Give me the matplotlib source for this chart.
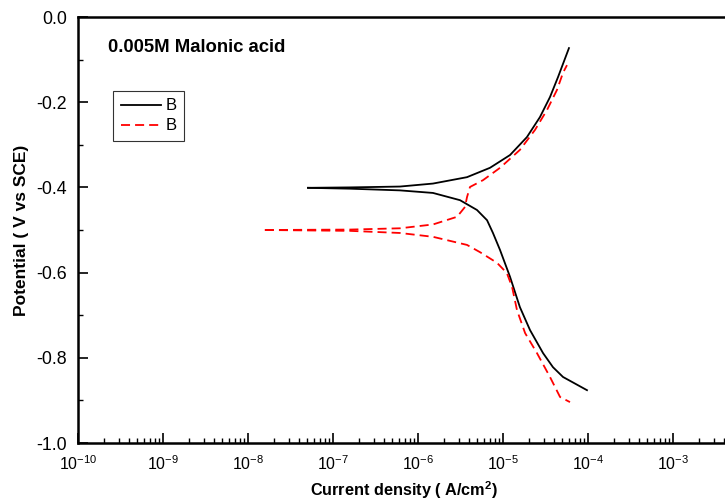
import matplotlib
matplotlib.use("Agg")
import matplotlib.pyplot as plt
from matplotlib.ticker import LogLocator, MultipleLocator

plt.rcParams["font.family"] = ["Liberation Sans", "DejaVu Sans"]
plt.rcParams["mathtext.fontset"] = "custom"
plt.rcParams["mathtext.rm"] = "Liberation Sans"
plt.rcParams["mathtext.it"] = "Liberation Sans:italic"
plt.rcParams["mathtext.bf"] = "Liberation Sans:bold"
plt.rcParams["axes.unicode_minus"] = False

# Black curve (B): anodic and cathodic branches, current in A/cm2, potential in V
black_anodic_i = [5.08e-8, 1.58e-7, 6.14e-7, 1.50e-6, 3.77e-6, 7.03e-6,
                  1.21e-5, 1.91e-5, 2.72e-5, 3.57e-5, 4.44e-5, 5.97e-5]
black_anodic_e = [-0.401, -0.400, -0.398, -0.391, -0.376, -0.354,
                  -0.324, -0.282, -0.235, -0.188, -0.141, -0.073]
black_cathodic_i = [5.08e-8, 1.58e-7, 6.14e-7, 1.50e-6, 3.12e-6, 4.94e-6,
                    6.49e-6, 7.62e-6, 9.23e-6, 1.21e-5, 1.58e-5, 2.08e-5,
                    2.96e-5, 3.87e-5, 5.08e-5, 9.73e-5]
black_cathodic_e = [-0.401, -0.403, -0.407, -0.413, -0.430, -0.453,
                    -0.477, -0.507, -0.547, -0.610, -0.681, -0.735,
                    -0.789, -0.822, -0.845, -0.876]

# Red dashed curve (B): anodic and cathodic branches
red_anodic_i = [1.58e-8, 1.58e-7, 6.14e-7, 1.50e-6, 2.88e-6, 3.57e-6,
                3.77e-6, 4.09e-6, 5.82e-6, 9.23e-6, 1.58e-5, 2.38e-5,
                3.30e-5, 4.32e-5, 5.08e-5, 5.66e-5]
red_anodic_e = [-0.500, -0.499, -0.496, -0.487, -0.469, -0.446,
                -0.423, -0.399, -0.383, -0.354, -0.312, -0.265,
                -0.218, -0.171, -0.131, -0.113]
red_cathodic_i = [1.58e-8, 1.58e-7, 6.14e-7, 1.50e-6, 3.77e-6, 5.36e-6,
                  8.5e-6, 1.11e-5, 1.28e-5, 1.46e-5, 1.82e-5, 2.51e-5,
                  3.57e-5, 4.69e-5, 6.14e-5]
red_cathodic_e = [-0.500, -0.502, -0.507, -0.516, -0.535, -0.552,
                  -0.577, -0.601, -0.634, -0.688, -0.742, -0.789,
                  -0.845, -0.892, -0.904]

x_major = [1e-10, 1e-9, 1e-8, 1e-7, 1e-6, 1e-5, 1e-4, 1e-3]
x_labels = [r"$10^{-10}$", r"$10^{-9}$", r"$10^{-8}$", r"$10^{-7}$",
            r"$10^{-6}$", r"$10^{-5}$", r"$10^{-4}$", r"$10^{-3}$"]
y_major = [-1.0, -0.8, -0.6, -0.4, -0.2, 0.0]

fig = plt.figure(figsize=(7.25, 5.04), dpi=100)
ax = fig.add_axes([78 / 725, 61 / 504, 680 / 725, 426 / 504])

dash = (0, (5, 2.8))
ax.plot(black_anodic_i, black_anodic_e, color="black", lw=1.3, label="B")
ax.plot(black_cathodic_i, black_cathodic_e, color="black", lw=1.3)
ax.plot(red_anodic_i, red_anodic_e, color="red", lw=1.3, ls=dash, label="B")
ax.plot(red_cathodic_i, red_cathodic_e, color="red", lw=1.3, ls=dash)

ax.set_xscale("log")
ax.set_xlim(1e-10, 1e-2)
ax.set_ylim(-1.0, 0.0)

ax.set_xticks(x_major)
ax.set_xticklabels(x_labels)
ax.xaxis.set_minor_locator(LogLocator(base=10, subs=range(2, 10), numticks=20))
ax.set_yticks(y_major)
ax.set_yticklabels([f"{v:.1f}" for v in y_major])
ax.yaxis.set_minor_locator(MultipleLocator(0.1))

ax.tick_params(which="major", direction="in", length=7, width=1.2,
               top=False, right=False)
ax.tick_params(which="minor", direction="in", length=3.5, width=1.0,
               top=False, right=False)
ax.tick_params(axis="x", which="major", labelsize=11.5, pad=8)
ax.tick_params(axis="y", which="major", labelsize=12.8, pad=8)

for side in ["left", "bottom", "top", "right"]:
    ax.spines[side].set_linewidth(1.8)

ax.set_xlabel(r"Current density ( A/cm$^\mathbf{2}$)", fontsize=11.7, fontweight="bold")
ax.xaxis.set_label_coords(0.479, -0.085)
ax.set_ylabel("Potential ( V vs SCE)", fontsize=12.5, fontweight="bold")
ax.yaxis.set_label_coords(-0.072, 0.5)

ax.text(108 / 725, 1 - 47 / 504, "0.005M Malonic acid", transform=fig.transFigure,
        fontsize=13.3, fontweight="bold", va="center", ha="left")

leg = ax.legend(loc="upper left", bbox_to_anchor=(113 / 725, 1 - 91 / 504),
                bbox_transform=fig.transFigure, fontsize=12, frameon=True,
                fancybox=False, edgecolor="black", borderpad=0.45,
                handlelength=2.4, handletextpad=0.3, labelspacing=0.3,
                borderaxespad=0)
leg.get_frame().set_linewidth(0.8)

fig.savefig("out.png", dpi=100)
